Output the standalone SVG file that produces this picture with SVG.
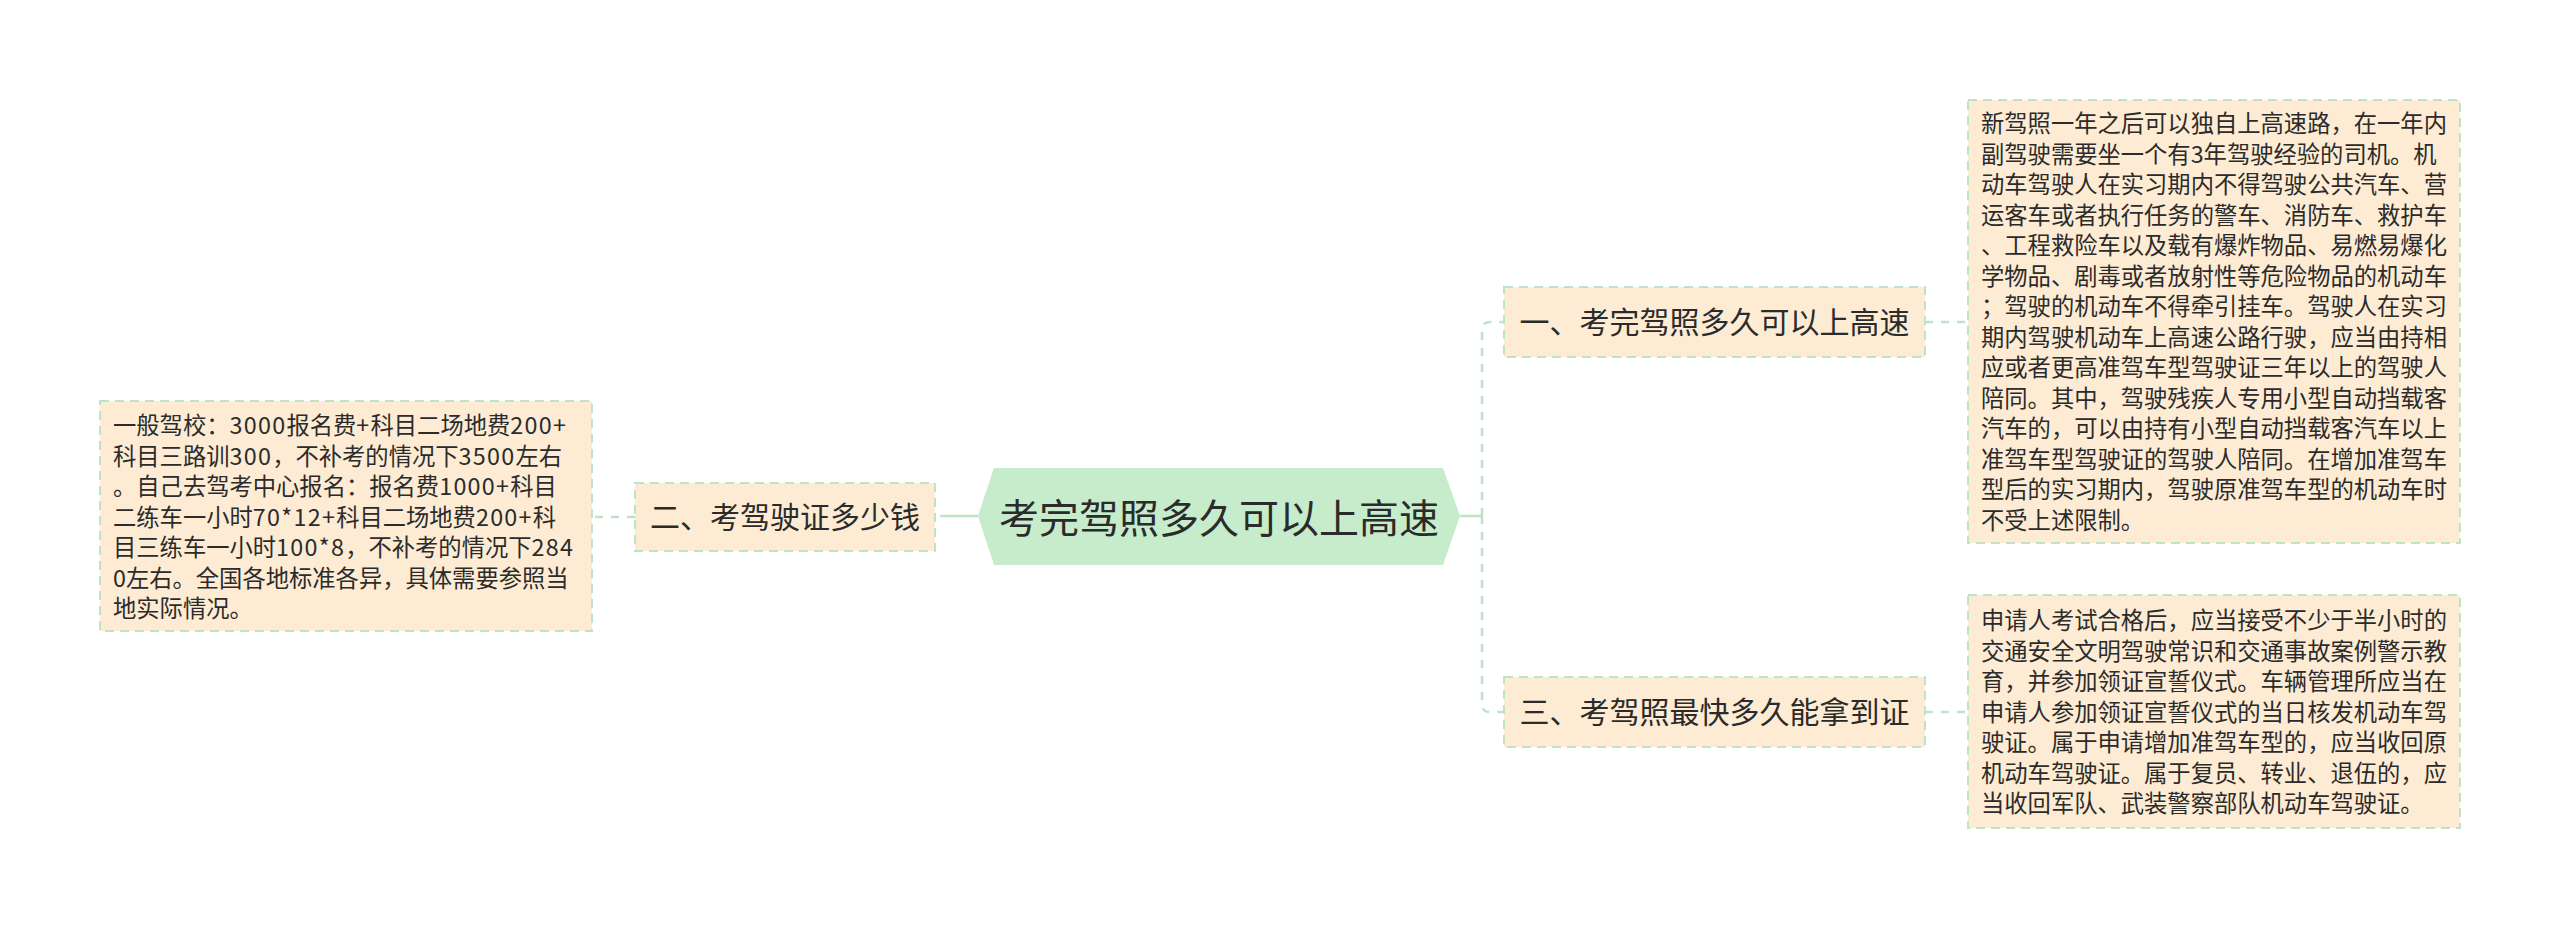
<svg xmlns="http://www.w3.org/2000/svg" width="2560" height="929" viewBox="0 0 2560 929">
<style>
.bg{fill:#ffffff}
.leaf{fill:#fdebd4;stroke:#bfe3c6;stroke-width:2;stroke-dasharray:9 6}
.center{fill:#c6eccb}
.conn{fill:none;stroke:#bfe3c6;stroke-width:2.5;stroke-dasharray:8 8}
.solid{fill:none;stroke:#bfe3c6;stroke-width:2.5}
text{font-family:"Noto Sans CJK SC","Noto Sans",sans-serif;fill:#2b2b2b}
.t0{font-size:40px}
.t1{font-size:30px}
.t2{font-size:23.3px}
.d{letter-spacing:1.3px}
</style>
<rect class="bg" x="0" y="0" width="2560" height="929"/>
<g id="connectors">
  <path class="solid" d="M978,516 H948"/>
  <path class="conn" d="M948,516 H935"/>
  <path class="conn" d="M635,517 H592"/>
  <path class="solid" d="M1460,516 H1482"/>
  <path class="conn" d="M1482,516 V330 Q1482,322 1490,322 H1504"/>
  <path class="conn" d="M1482,516 V704 Q1482,712 1490,712 H1504"/>
  <path class="conn" d="M1925,322 H1968"/>
  <path class="conn" d="M1925,712 H1968"/>
</g>
<g id="center">
  <polygon class="center" points="978,516 994,468 1443,468 1460,516 1443,565 994,565"/>
  <text class="t0" x="1219" y="533" text-anchor="middle">考完驾照多久可以上高速</text>
</g>
<g id="n2">
  <rect class="leaf" x="635" y="483" width="300" height="68"/>
  <text class="t1" x="785" y="528" text-anchor="middle">二、考驾驶证多少钱</text>
</g>
<g id="n2-leaf">
  <rect class="leaf" x="100" y="401" width="492" height="230"/>
  <text class="t2" x="113" y="434">一般驾校：<tspan class="d">3000</tspan>报名费<tspan class="d">+</tspan>科目二场地费<tspan class="d">200+</tspan></text>
  <text class="t2" x="113" y="464.5">科目三路训<tspan class="d">300</tspan>，不补考的情况下<tspan class="d">3500</tspan>左右</text>
  <text class="t2" x="113" y="495">。自己去驾考中心报名：报名费<tspan class="d">1000+</tspan>科目</text>
  <text class="t2" x="113" y="525.5">二练车一小时<tspan class="d">70*12+</tspan>科目二场地费<tspan class="d">200+</tspan>科</text>
  <text class="t2" x="113" y="556">目三练车一小时<tspan class="d">100*8</tspan>，不补考的情况下<tspan class="d">284</tspan></text>
  <text class="t2" x="113" y="586.5">0左右。全国各地标准各异，具体需要参照当</text>
  <text class="t2" x="113" y="617">地实际情况。</text>
</g>
<g id="n1">
  <rect class="leaf" x="1504" y="287" width="421" height="70"/>
  <text class="t1" x="1714.5" y="333" text-anchor="middle">一、考完驾照多久可以上高速</text>
</g>
<g id="n1-leaf">
  <rect class="leaf" x="1968" y="100" width="492" height="443"/>
  <text class="t2" x="1981" y="132">新驾照一年之后可以独自上高速路，在一年内</text>
  <text class="t2" x="1981" y="162.5">副驾驶需要坐一个有3年驾驶经验的司机。机</text>
  <text class="t2" x="1981" y="193">动车驾驶人在实习期内不得驾驶公共汽车、营</text>
  <text class="t2" x="1981" y="223.5">运客车或者执行任务的警车、消防车、救护车</text>
  <text class="t2" x="1981" y="254">、工程救险车以及载有爆炸物品、易燃易爆化</text>
  <text class="t2" x="1981" y="284.5">学物品、剧毒或者放射性等危险物品的机动车</text>
  <text class="t2" x="1981" y="315">；驾驶的机动车不得牵引挂车。驾驶人在实习</text>
  <text class="t2" x="1981" y="345.5">期内驾驶机动车上高速公路行驶，应当由持相</text>
  <text class="t2" x="1981" y="376">应或者更高准驾车型驾驶证三年以上的驾驶人</text>
  <text class="t2" x="1981" y="406.5">陪同。其中，驾驶残疾人专用小型自动挡载客</text>
  <text class="t2" x="1981" y="437">汽车的，可以由持有小型自动挡载客汽车以上</text>
  <text class="t2" x="1981" y="467.5">准驾车型驾驶证的驾驶人陪同。在增加准驾车</text>
  <text class="t2" x="1981" y="498">型后的实习期内，驾驶原准驾车型的机动车时</text>
  <text class="t2" x="1981" y="528.5">不受上述限制。</text>
</g>
<g id="n3">
  <rect class="leaf" x="1504" y="677" width="421" height="70"/>
  <text class="t1" x="1714.5" y="723" text-anchor="middle">三、考驾照最快多久能拿到证</text>
</g>
<g id="n3-leaf">
  <rect class="leaf" x="1968" y="595" width="492" height="233"/>
  <text class="t2" x="1981" y="629">申请人考试合格后，应当接受不少于半小时的</text>
  <text class="t2" x="1981" y="659.5">交通安全文明驾驶常识和交通事故案例警示教</text>
  <text class="t2" x="1981" y="690">育，并参加领证宣誓仪式。车辆管理所应当在</text>
  <text class="t2" x="1981" y="720.5">申请人参加领证宣誓仪式的当日核发机动车驾</text>
  <text class="t2" x="1981" y="751">驶证。属于申请增加准驾车型的，应当收回原</text>
  <text class="t2" x="1981" y="781.5">机动车驾驶证。属于复员、转业、退伍的，应</text>
  <text class="t2" x="1981" y="812">当收回军队、武装警察部队机动车驾驶证。</text>
</g>
</svg>
